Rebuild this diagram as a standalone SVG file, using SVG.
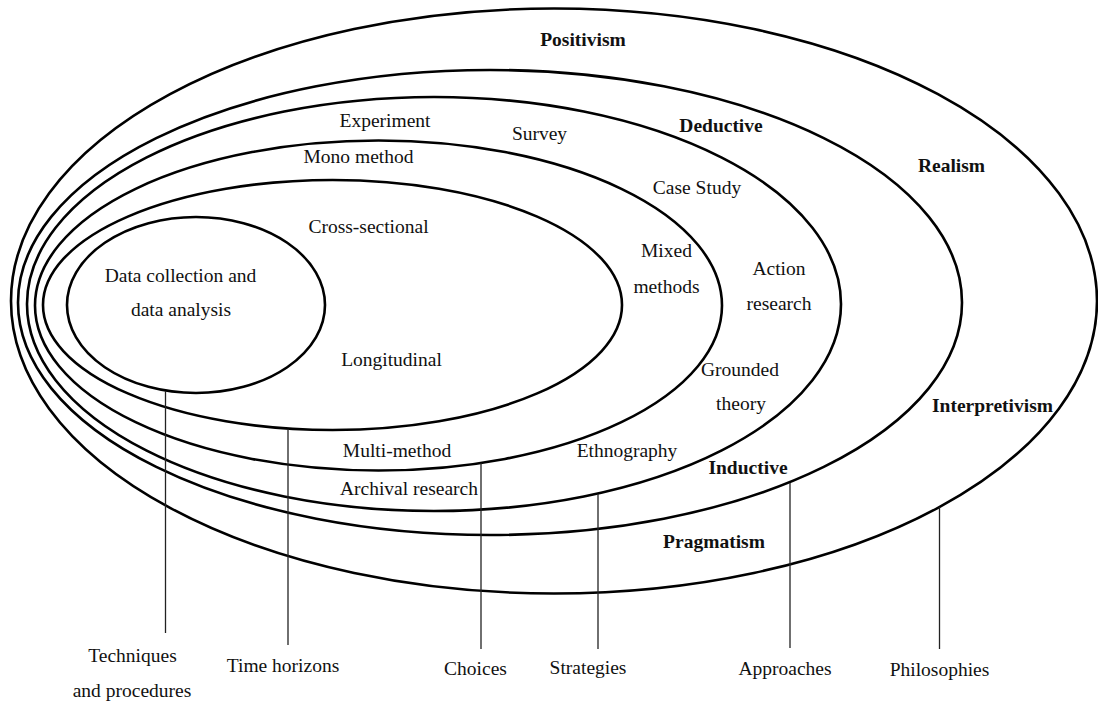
<svg xmlns="http://www.w3.org/2000/svg" width="1098" height="702" viewBox="0 0 1098 702">
<style>
.ring{fill:none;stroke:#000;stroke-width:2.6}
.lead{stroke:#222;stroke-width:1.3;fill:none}
text{font-family:"Liberation Serif","Times New Roman",serif;font-size:19.5px;fill:#111;text-anchor:middle}
.b{font-weight:bold}
</style>
<rect width="1098" height="702" fill="#fff"/>
<g id="philosophies">
<ellipse class="ring" cx="554" cy="301" rx="543" ry="292.5"/>
<text class="b" x="583" y="46">Positivism</text>
<text class="b" x="951.5" y="172">Realism</text>
<text class="b" x="992.5" y="412">Interpretivism</text>
<text class="b" x="714" y="548">Pragmatism</text>
</g>
<g id="approaches">
<ellipse class="ring" cx="490" cy="302.5" rx="472" ry="232.5"/>
<text class="b" x="721" y="132">Deductive</text>
<text class="b" x="748" y="474">Inductive</text>
</g>
<g id="strategies">
<ellipse class="ring" cx="434" cy="304" rx="407" ry="207"/>
<text x="385" y="127">Experiment</text>
<text x="539.5" y="140">Survey</text>
<text x="697" y="194">Case Study</text>
<text x="779" y="275">Action</text>
<text x="779" y="310">research</text>
<text x="740" y="376">Grounded</text>
<text x="741" y="410">theory</text>
<text x="627" y="457">Ethnography</text>
<text x="409" y="495">Archival research</text>
</g>
<g id="choices">
<ellipse class="ring" cx="378.5" cy="305.5" rx="343.5" ry="165"/>
<text x="358.5" y="163">Mono method</text>
<text x="666.5" y="257">Mixed</text>
<text x="666.5" y="293">methods</text>
<text x="397" y="457">Multi-method</text>
</g>
<g id="time-horizons">
<ellipse class="ring" cx="332.5" cy="305" rx="289.5" ry="125"/>
<text x="368.5" y="233">Cross-sectional</text>
<text x="391.5" y="366">Longitudinal</text>
</g>
<g id="techniques">
<ellipse class="ring" cx="196" cy="305" rx="129" ry="88"/>
<text x="180.5" y="282">Data collection and</text>
<text x="181" y="316">data analysis</text>
</g>
<g id="connectors">
<line class="lead" x1="165.5" y1="391" x2="165.5" y2="633"/>
<line class="lead" x1="288" y1="429" x2="288" y2="645"/>
<line class="lead" x1="481" y1="463" x2="481" y2="649"/>
<line class="lead" x1="598" y1="494" x2="598" y2="649"/>
<line class="lead" x1="790" y1="483" x2="790" y2="648"/>
<line class="lead" x1="939.5" y1="507" x2="939.5" y2="649"/>
</g>
<g id="labels">
<text x="132.5" y="662">Techniques</text>
<text x="132" y="697">and procedures</text>
<text x="283" y="672">Time horizons</text>
<text x="475.5" y="675">Choices</text>
<text x="588" y="674">Strategies</text>
<text x="785" y="675">Approaches</text>
<text x="939.5" y="676">Philosophies</text>
</g>
</svg>
